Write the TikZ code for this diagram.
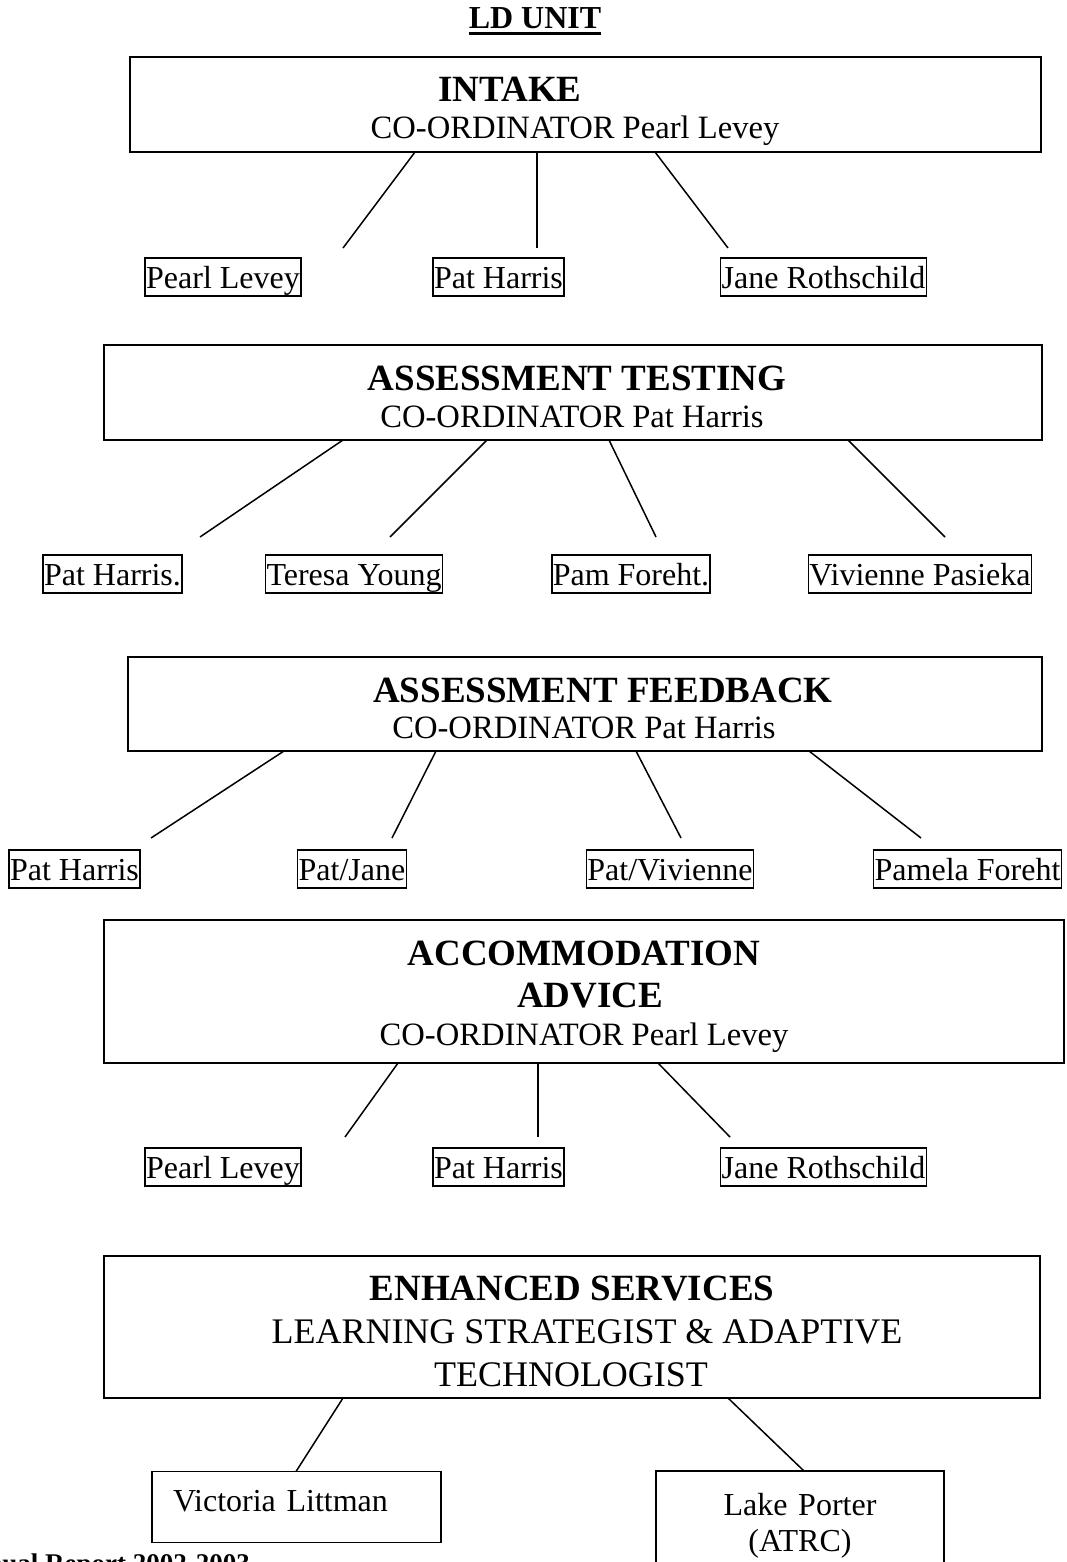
\documentclass[tikz,border=0pt]{standalone}
\usepackage{fontspec}
\setmainfont{Liberation Serif}
\tikzset{
  bigbox/.style={draw, line width=2.8pt, inner sep=0pt, outer sep=0pt},
  person/.style={draw, line width=1.5pt, inner xsep=1pt, inner ysep=1pt, outer sep=0pt,
    text height=29pt, text depth=7pt, anchor=base, font=\fontsize{32}{38}\selectfont},
  head/.style={inner sep=0pt, anchor=base, font=\bfseries\fontsize{37}{44}\selectfont},
  sub/.style={inner sep=0pt, anchor=base, font=\fontsize{32.6}{38}\selectfont},
  subbig/.style={inner sep=0pt, anchor=base, font=\fontsize{36}{44}\selectfont},
  staffbox/.style={draw, line width=1.8pt, outer sep=0pt, font=\fontsize{32}{36}\selectfont},
  link/.style={line width=1.5pt},
}
\begin{document}
\begin{tikzpicture}[x=1pt,y=-1pt]
  \useasboundingbox (0,0) rectangle (1066,1562);
  \clip (0,0) rectangle (1066,1562);
  % heading
  \node[inner sep=0pt, anchor=base, font=\bfseries\fontsize{32}{38}\selectfont] (unit) at (535,29) {LD UNIT};
  \draw[line width=3pt] ([yshift=-5pt]unit.base west) -- ([yshift=-5pt]unit.base east);

  % intake
  \node[bigbox, minimum width=911pt, minimum height=95pt] (intake) at (585.5,104.5) {};
  \node[head] (intakeH) at (510,102) {INTAKE};
  \node[sub] (intakeC) at (575,139) {CO-ORDINATOR Pearl Levey};
  \node[person] (in1) at (223,288) {Pearl Levey};
  \node[person] (in2) at (498.5,288) {Pat Harris};
  \node[person] (in3) at (823.5,288) {Jane Rothschild};
  \draw[link] (intake.south -| 415,0) -- ([yshift=10pt]in1.north -| 343,0);
  \draw[link] (intake.south -| 537,0) -- ([yshift=10pt]in2.north -| 537,0);
  \draw[link] (intake.south -| 655,0) -- ([yshift=10pt]in3.north -| 728,0);

  % assessment testing
  \node[bigbox, minimum width=938pt, minimum height=95pt] (testing) at (573,392.5) {};
  \node[head] (testingH) at (577,390) {ASSESSMENT TESTING};
  \node[sub] (testingC) at (572,427) {CO-ORDINATOR Pat Harris};
  \node[person] (te1) at (112.5,585) {Pat Harris.};
  \node[person] (te2) at (354,585) {Teresa Young};
  \node[person] (te3) at (631,585) {Pam Foreht.};
  \node[person] (te4) at (920,585) {Vivienne Pasieka};
  \draw[link] (testing.south -| 343,0) -- ([yshift=18pt]te1.north -| 200,0);
  \draw[link] (testing.south -| 487,0) -- ([yshift=18pt]te2.north -| 390,0);
  \draw[link] (testing.south -| 609,0) -- ([yshift=18pt]te3.north -| 656,0);
  \draw[link] (testing.south -| 848,0) -- ([yshift=18pt]te4.north -| 945,0);

  % assessment feedback
  \node[bigbox, minimum width=914pt, minimum height=94pt] (feedback) at (585,704) {};
  \node[head] (feedbackH) at (603,702) {ASSESSMENT FEEDBACK};
  \node[sub] (feedbackC) at (584,738) {CO-ORDINATOR Pat Harris};
  \node[person] (fe1) at (74.5,880) {Pat Harris};
  \node[person] (fe2) at (352,880) {Pat/Jane};
  \node[person] (fe3) at (670,880) {Pat/Vivienne};
  \node[person] (fe4) at (967.5,880) {Pamela Foreht};
  \draw[link] (feedback.south -| 284,0) -- ([yshift=12pt]fe1.north -| 151,0);
  \draw[link] (feedback.south -| 436,0) -- ([yshift=12pt]fe2.north -| 392,0);
  \draw[link] (feedback.south -| 636,0) -- ([yshift=12pt]fe3.north -| 681,0);
  \draw[link] (feedback.south -| 809,0) -- ([yshift=12pt]fe4.north -| 921,0);

  % accommodation advice
  \node[bigbox, minimum width=960pt, minimum height=143pt] (accom) at (584,991.5) {};
  \node[head] (accomH) at (584,965) {ACCOMMODATION};
  \node[head] (accomH2) at (590,1007) {ADVICE};
  \node[sub] (accomC) at (584,1045) {CO-ORDINATOR Pearl Levey};
  \node[person] (ac1) at (223,1178) {Pearl Levey};
  \node[person] (ac2) at (498.5,1178) {Pat Harris};
  \node[person] (ac3) at (823.5,1178) {Jane Rothschild};
  \draw[link] (accom.south -| 398,0) -- ([yshift=11pt]ac1.north -| 345,0);
  \draw[link] (accom.south -| 538,0) -- ([yshift=11pt]ac2.north -| 538,0);
  \draw[link] (accom.south -| 658,0) -- ([yshift=11pt]ac3.north -| 730,0);

  % enhanced services
  \node[bigbox, minimum width=936pt, minimum height=142pt] (enh) at (572,1327) {};
  \node[head] (enhH) at (572,1300) {ENHANCED SERVICES};
  \node[subbig] (enhC) at (587,1343) {LEARNING STRATEGIST \& ADAPTIVE};
  \node[subbig] (enhC2) at (571,1386) {TECHNOLOGIST};
  \node[staffbox, text width=247pt, inner xsep=21pt, align=left, minimum height=71pt,
    text height=21pt, text depth=13pt] (vl) at (296.5,1507) {Victoria Littman};
  \node[staffbox, text width=260pt, inner xsep=14pt, align=center, minimum height=110pt] (lp) at (800,1526)
    {Lake Porter\\(ATRC)};
  \draw[link] (enh.south -| 343,0) -- (vl.north -| 296,0);
  \draw[link] (enh.south -| 728,0) -- (lp.north -| 804,0);

  % footer, cut off by the page
  \node[inner sep=0pt, anchor=base east, font=\bfseries\fontsize{27}{32}\selectfont] (footer) at (250,1572)
    {Annual Report 2002-2003};
\end{tikzpicture}
\end{document}
